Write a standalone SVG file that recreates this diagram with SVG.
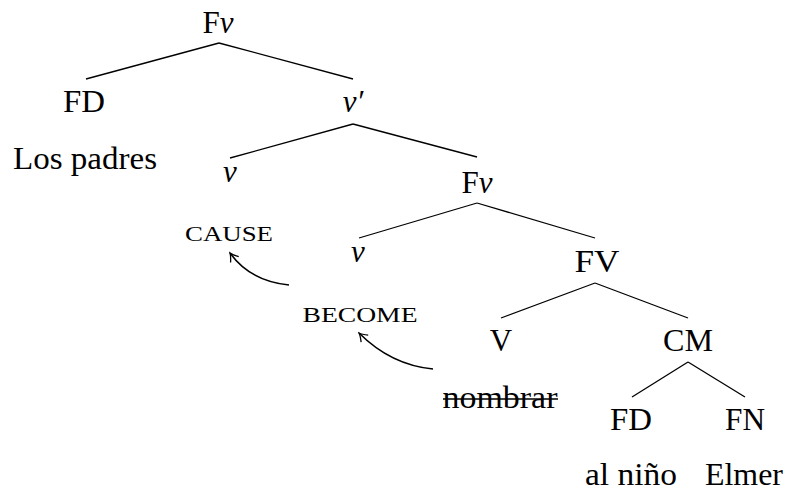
<svg xmlns="http://www.w3.org/2000/svg" width="788" height="491" viewBox="0 0 788 491">
<style>
text{font-family:"Liberation Serif","DejaVu Serif",serif;font-size:31px;fill:#000;text-anchor:middle}
.it{font-style:italic}
.sc{font-size:21px}
.edge{stroke:#000;stroke-width:1.3;fill:none}
.mv{stroke:#000;stroke-width:1.6;fill:none;marker-end:url(#ah)}
</style>
<defs>
<marker id="ah" viewBox="-10 -6 12 12" refX="0" refY="0" markerWidth="12" markerHeight="12" markerUnits="userSpaceOnUse" orient="auto">
<path d="M-8,-5 Q-3,-1 0,0 Q-3,1 -8,5" fill="none" stroke="#000" stroke-width="1.3"/>
</marker>
</defs>
<g id="connectors">
<line class="edge" x1="219" y1="43" x2="86" y2="79"/>
<line class="edge" x1="219" y1="43" x2="353" y2="79"/>
<line class="edge" x1="353" y1="124" x2="230" y2="158"/>
<line class="edge" x1="353" y1="124" x2="477" y2="157"/>
<line class="edge" x1="477" y1="203" x2="359" y2="238"/>
<line class="edge" x1="477" y1="203" x2="595" y2="238"/>
<line class="edge" x1="595" y1="283" x2="501" y2="318"/>
<line class="edge" x1="595" y1="283" x2="688" y2="318"/>
<line class="edge" x1="688" y1="362" x2="632" y2="397"/>
<line class="edge" x1="688" y1="362" x2="745" y2="397"/>
<path class="mv" d="M289,285 Q250,281 230,253"/>
<path class="mv" d="M433,369 Q391,365 359,333"/>
</g>
<g id="n-Fv"><text x="218" y="33">F<tspan class="it">v</tspan></text></g>
<g id="n-FD1"><text x="84" y="112" textLength="42" lengthAdjust="spacingAndGlyphs">FD</text></g>
<g id="n-vbar"><text x="353" y="112" class="it">v′</text></g>
<g id="n-lospadres"><text x="85" y="169" textLength="144" lengthAdjust="spacingAndGlyphs">Los padres</text></g>
<g id="n-v1"><text x="230" y="182" class="it">v</text></g>
<g id="n-Fv2"><text x="477" y="193">F<tspan class="it">v</tspan></text></g>
<g id="n-cause"><text x="229" y="241" class="sc" textLength="88" lengthAdjust="spacingAndGlyphs">CAUSE</text></g>
<g id="n-v2"><text x="358" y="262" class="it">v</text></g>
<g id="n-FV"><text x="597" y="272" textLength="45" lengthAdjust="spacingAndGlyphs">FV</text></g>
<g id="n-become"><text x="360" y="322" class="sc" textLength="115" lengthAdjust="spacingAndGlyphs">BECOME</text></g>
<g id="n-V"><text x="501" y="351">V</text></g>
<g id="n-CM"><text x="688" y="351" textLength="50" lengthAdjust="spacingAndGlyphs">CM</text></g>
<g id="n-nombrar"><text x="500" y="408" textLength="115" lengthAdjust="spacingAndGlyphs">nombrar</text><line x1="443" y1="399" x2="558" y2="399" stroke="#000" stroke-width="1.3"/></g>
<g id="n-FD2"><text x="631" y="430" textLength="42" lengthAdjust="spacingAndGlyphs">FD</text></g>
<g id="n-FN"><text x="745" y="430" textLength="40" lengthAdjust="spacingAndGlyphs">FN</text></g>
<g id="n-alnino"><text x="631" y="485" textLength="92" lengthAdjust="spacingAndGlyphs">al niño</text></g>
<g id="n-elmer"><text x="744" y="485" textLength="78" lengthAdjust="spacingAndGlyphs">Elmer</text></g>
</svg>
